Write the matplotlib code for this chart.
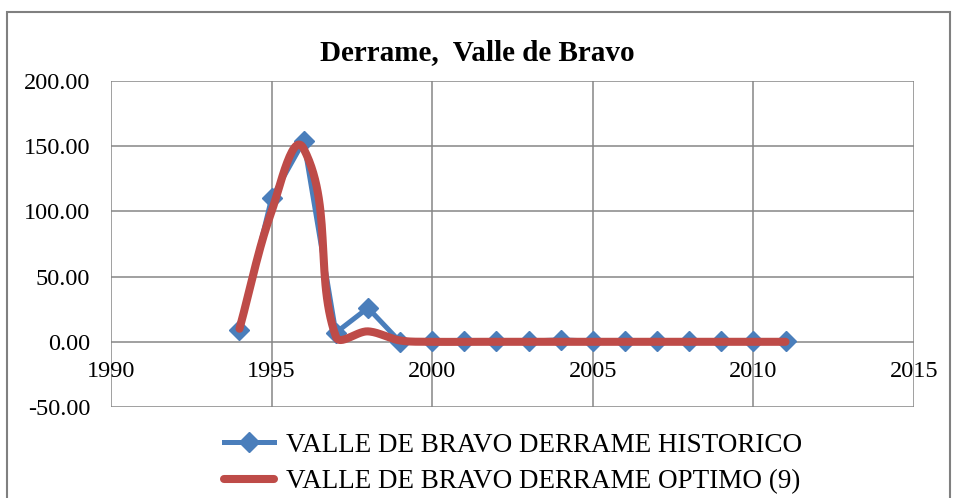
import numpy as np
import matplotlib
matplotlib.use('Agg')
import matplotlib.pyplot as plt
from matplotlib.patches import Rectangle

plt.rcParams['font.family'] = ['Liberation Serif', 'DejaVu Serif']

# datos
years = [1994, 1995, 1996, 1997, 1998, 1999, 2000, 2001, 2002, 2003,
         2004, 2005, 2006, 2007, 2008, 2009, 2010, 2011]
historico = [9.0, 110.0, 154.0, 7.0, 26.0, 0.0, 0.5, 0.5, 0.5, 0.5,
             1.5, 0.5, 0.5, 0.5, 0.5, 0.5, 0.5, 0.5]
optimo = [10.0, 100.0, 148.0, 4.0, 8.0, 1.0, 0.0, 0.0, 0.0, 0.0,
          0.0, 0.0, 0.0, 0.0, 0.0, 0.0, 0.0, 0.0]

label_hist = 'VALLE DE BRAVO DERRAME HISTORICO'
label_opt = 'VALLE DE BRAVO DERRAME OPTIMO (9)'
title = 'Derrame,  Valle de Bravo'
xticks = [1990, 1995, 2000, 2005, 2010, 2015]
yticks = [-50, 0, 50, 100, 150, 200]

BLUE = '#4A7EBB'
RED = '#BE4B48'
GRID = '#868686'


def smooth(x, y, sx=32.3, sy=1.306, n=30):
    # linea suavizada parecida a la de Excel, calculada en pixeles
    px = np.asarray(x, float) * sx
    py = np.asarray(y, float) * sy
    pts = np.column_stack([px, py])
    m = len(pts)
    tang = np.zeros_like(pts)
    for i in range(m):
        a = pts[max(i - 1, 0)]
        b = pts[min(i + 1, m - 1)]
        d = b - a
        tang[i] = d / np.hypot(*d)
    t = np.linspace(0, 1, n)[:, None]
    out = []
    for i in range(m - 1):
        p1, p2 = pts[i], pts[i + 1]
        L = np.hypot(*(p2 - p1)) / 3.0
        c1 = p1 + tang[i] * L
        c2 = p2 - tang[i + 1] * L
        b = (1 - t) ** 3 * p1 + 3 * (1 - t) ** 2 * t * c1 + 3 * (1 - t) * t ** 2 * c2 + t ** 3 * p2
        out.append(b)
    out = np.vstack(out)
    return out[:, 0] / sx, out[:, 1] / sy


fig = plt.figure(figsize=(9.55, 4.98), dpi=100)
fig.patches.append(Rectangle((0.007, -0.05), 0.988, 1.026, transform=fig.transFigure,
                             fill=False, edgecolor='#808080', linewidth=1.5))

ax = fig.add_axes([111 / 955, 91 / 498, 803 / 955, 326 / 498])

ax.plot(years, historico, color=BLUE, linewidth=3.6, marker='D', markersize=10.5,
        label=label_hist, zorder=3)
sx, sy = smooth(years, optimo)
ax.plot(sx, sy, color=RED, linewidth=5.8, solid_capstyle='round',
        label=label_opt, zorder=4)

ax.set_xlim(1990, 2015)
ax.set_ylim(-50, 200)
ax.set_xticks(xticks)
ax.set_yticks(yticks)
ax.set_yticklabels(['%.2f' % v for v in yticks])
ax.grid(True, color=GRID, linewidth=1.1)
ax.set_axisbelow(True)
for s in ['top', 'right', 'left']:
    ax.spines[s].set_visible(False)
ax.spines['bottom'].set_position(('data', 0))
ax.spines['bottom'].set_visible(False)
ax.tick_params(axis='both', length=0, labelsize=17.5)
ax.tick_params(axis='y', pad=15)
ax.tick_params(axis='x', pad=14)

fig.text(0.5, 0.895, title, ha='center', va='center', fontsize=21, fontweight='bold')

leg = fig.legend(loc='upper center', bbox_to_anchor=(0.537, 0.18), frameon=False,
                 fontsize=19.5, handlelength=1.85, labelspacing=0.42, handletextpad=0.45)

fig.savefig('out.png', dpi=100)
